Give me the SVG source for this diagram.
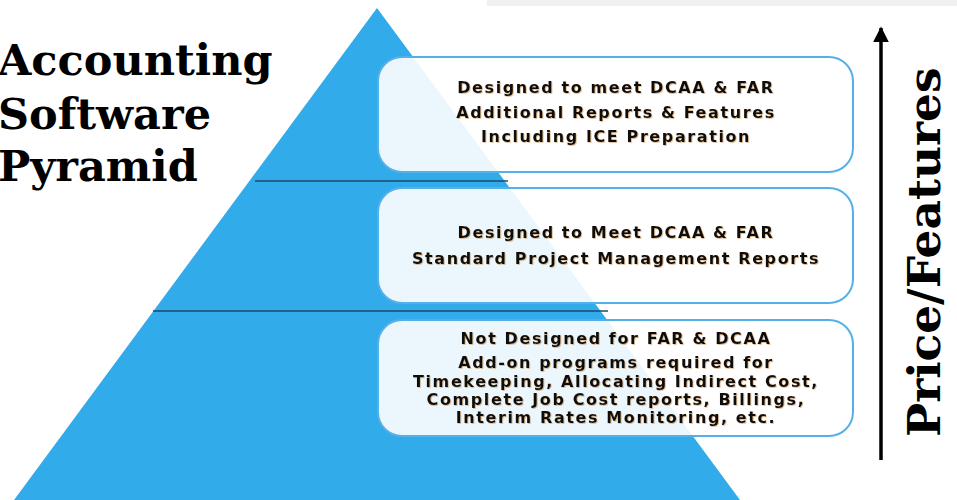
<svg xmlns="http://www.w3.org/2000/svg" width="957" height="500" viewBox="0 0 957 500">
<defs>
<style>
.title{font-family:"DejaVu Serif","Liberation Serif",serif;font-weight:bold;font-size:43px;fill:#000}
.side{font-family:"DejaVu Serif","Liberation Serif",serif;font-weight:bold;font-size:45.5px;fill:#000}
.box{fill:#ffffff;fill-opacity:0.9;stroke:#55b0ea;stroke-width:2}
.t{font-family:"DejaVu Sans","Open Sans",sans-serif;font-weight:bold;font-size:16px;fill:#111;text-anchor:middle;letter-spacing:1.6px;filter:url(#sh)}
.sep{stroke:#1c4a6a;stroke-width:1.5}
</style>
<filter id="sh" x="-5%" y="-30%" width="110%" height="160%">
<feDropShadow dx="0.8" dy="0.8" stdDeviation="0.4" flood-color="#b06a10" flood-opacity="0.5"/>
</filter>
<marker id="ah" viewBox="0 0 10 10" refX="9" refY="5" markerWidth="4.5" markerHeight="5" orient="auto" markerUnits="strokeWidth">
<path d="M0,0 L10,5 L0,10 z" fill="#000"/>
</marker>
</defs>
<rect width="957" height="500" fill="#fff"/>
<rect x="487" y="0" width="470" height="6" fill="#f0f0f0"/>
<g id="pyramid">
<polygon points="377,8 740,500 14,500" fill="#32abea"/>
<line class="sep" x1="255" y1="181" x2="508" y2="181"/>
<line class="sep" x1="153" y1="311" x2="608" y2="311"/>
</g>
<g id="title">
<text class="title" x="-2" y="75">Accounting</text>
<text class="title" x="-2" y="129">Software</text>
<text class="title" x="-2" y="181">Pyramid</text>
</g>
<g id="box-top">
<rect class="box" x="378" y="57" width="475" height="115" rx="24"/>
<text class="t" x="616" y="93">Designed to meet DCAA &amp; FAR</text>
<text class="t" x="616" y="118">Additional Reports &amp; Features</text>
<text class="t" x="616" y="142">Including ICE Preparation</text>
</g>
<g id="box-mid">
<rect class="box" x="378" y="188" width="475" height="115" rx="24"/>
<text class="t" x="616" y="238">Designed to Meet DCAA &amp; FAR</text>
<text class="t" x="616" y="264">Standard Project Management Reports</text>
</g>
<g id="box-bottom">
<rect class="box" x="378" y="320" width="475" height="116" rx="24"/>
<text class="t" x="616" y="344">Not Designed for FAR &amp; DCAA</text>
<text class="t" x="616" y="368">Add-on programs required for</text>
<text class="t" x="616" y="387">Timekeeping, Allocating Indirect Cost,</text>
<text class="t" x="616" y="405">Complete Job Cost reports, Billings,</text>
<text class="t" x="616" y="423">Interim Rates Monitoring, etc.</text>
</g>
<g id="connectors">
<line x1="881" y1="460" x2="881" y2="28" stroke="#000" stroke-width="3.5" marker-end="url(#ah)"/>
</g>
<g id="axis-label">
<text class="side" transform="translate(940,437) rotate(-90)">Price/Features</text>
</g>
</svg>
